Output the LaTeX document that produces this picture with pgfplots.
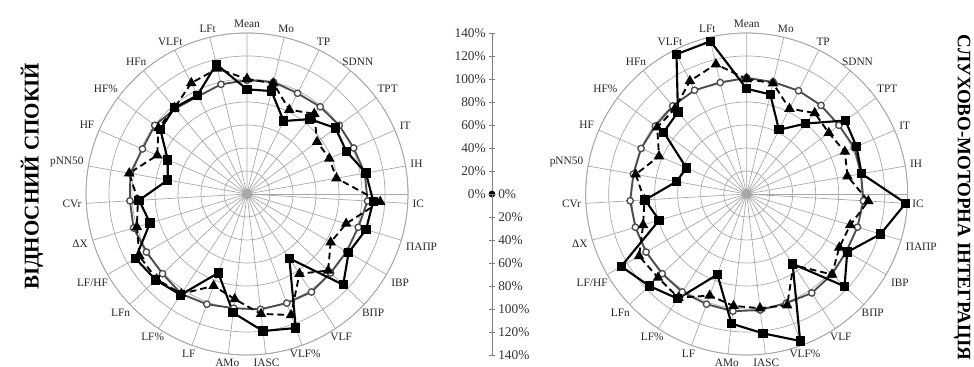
\documentclass[border=0pt]{standalone}
\usepackage{fontspec}
\setmainfont{Liberation Serif}
\usepackage{pgfplots}
\usepackage{pgfplotstable}
\usepgfplotslibrary{polar}
\pgfplotsset{compat=1.18}

\pgfplotstableread{
c t s
99 100 91
100 99 92
98 82 71
99 91 85
100 76 96
101 78 94
104 79 105
105 116 110
101 90 108
100 84 102
100 97 115
102 83 67
101 112 124
101 105 120
100 92 104
102 85 73
104 104 105
101 108 109
101 108 112
103 100 88
102 95 94
103 104 70
99 85 75
100 96 94
97 98 98
95 108 96
98 112 116
99 100 91
}\leftdata

\pgfplotstableread{
c t s
101 100 91.5
100 99 89
100.5 83 62.5
100.6 92 80
100 89 107
102 93 104
101 89 101.5
101.7 106 138.5
100.6 94 121.5
100 93 101
102 102 117
103 74 72.7
101 103 136
101.6 100 122
102.6 98 113.5
102 94 74.5
102 108 109
101 106 116.5
101 108 126
101 94 79.5
101.5 89 88.5
100 98 62
100 83 57
99 97 90
100 97 93
101 110 136
99.6 116 136.5
101 100 91.5
}\rightdata

\pgfplotsset{
  myradar/.style={
    scale only axis, width=241.5pt, height=241.5pt,
    anchor=center, clip=false,
    ymin=0, ymax=140, ytick={20,40,...,140}, yticklabels={},
    xtick={90,76.6667,63.3333,50,36.6667,23.3333,10,356.6667,343.3333,330,316.6667,303.3333,290,276.6667,263.3333,250,236.6667,223.3333,210,196.6667,183.3333,170,156.6667,143.3333,130,116.6667,103.3333},
    xticklabels={Mean,Mo,TP,SDNN,TPT,IT,IH,IC,ПАПР,IBP,ВПР,VLF,{VLF\%},IASC,AMo,LF,{LF\%},LFn,{LF/HF},ΔX,CVr,pNN50,HF,{HF\%},HFn,VLFt,LFt},
    xticklabel style={anchor=\tick-180, inner sep=3.5pt, font=\fontsize{8.5}{9}\selectfont, text=black!85},
    major tick length=0pt,
    grid=major,
    major grid style={black!35, line width=0.5pt},
    axis line style={black!35, line width=0.6pt},
  },
  sc/.style={color=black!70, line width=1.4pt, mark=*, mark size=2.4pt,
    mark options={solid, fill=white, draw=black!70, line width=1pt}},
  st/.style={color=black, line width=1.4pt, dash pattern=on 5pt off 3pt, mark=triangle*, mark size=3.2pt,
    mark options={solid, fill=black}},
  ss/.style={color=black, line width=1.6pt, mark=square*, mark size=2.7pt,
    mark options={solid, fill=black}},
}

\begin{document}
\begin{tikzpicture}
% left radar
\begin{polaraxis}[myradar, at={(185.25pt,129.75pt)}]
\addplot[sc] table[x expr={mod(450-\coordindex*360/27,360)}, y=c] {\leftdata};
\addplot[st] table[x expr={mod(450-\coordindex*360/27,360)}, y=t] {\leftdata};
\addplot[ss] table[x expr={mod(450-\coordindex*360/27,360)}, y=s] {\leftdata};
\end{polaraxis}
% right radar
\begin{polaraxis}[myradar, at={(560pt,129.75pt)}]
\addplot[sc] table[x expr={mod(450-\coordindex*360/27,360)}, y=c] {\rightdata};
\addplot[st] table[x expr={mod(450-\coordindex*360/27,360)}, y=t] {\rightdata};
\addplot[ss] table[x expr={mod(450-\coordindex*360/27,360)}, y=s] {\rightdata};
\end{polaraxis}
% central scale, upper half
\begin{axis}[scale only axis, width=0.1pt, height=120.75pt,
  at={(369pt,129.75pt)}, anchor=south west, clip=false,
  xmin=0, xmax=1, ymin=0, ymax=140, hide x axis,
  axis y line*=left, ytick={0,20,...,140},
  yticklabels={0\%,20\%,40\%,60\%,80\%,100\%,120\%,140\%},
  yticklabel style={font=\fontsize{10}{10}\selectfont, text=black!80, inner sep=2pt},
  tick align=center, major tick length=5pt,
  axis line style={black!50, line width=0.6pt}, tick style={black!50, line width=0.6pt}]
\addplot[only marks, mark=*, mark size=2.3pt, black] coordinates {(0,0)};
\end{axis}
% central scale, lower half
\begin{axis}[scale only axis, width=0.1pt, height=120.75pt,
  at={(368.9pt,129.75pt)}, anchor=north west, clip=false,
  xmin=0, xmax=1, ymin=0, ymax=140, y dir=reverse, hide x axis,
  axis y line*=right, yticklabel pos=right, ytick={0,20,...,140},
  yticklabels={0\%,20\%,40\%,60\%,80\%,100\%,120\%,140\%},
  yticklabel style={font=\fontsize{10}{10}\selectfont, text=black!80, inner sep=2pt},
  tick align=center, major tick length=5pt,
  axis line style={black!50, line width=0.6pt}, tick style={black!50, line width=0.6pt}]
\addplot[draw=none] coordinates {(0,0)};
\end{axis}
\node[rotate=90, inner sep=0pt] at (24pt,143pt) {\resizebox{170pt}{!}{\bfseries\fontsize{15}{15}\selectfont ВІДНОСНИЙ СПОКІЙ}};
\node[rotate=-90, inner sep=0pt] at (721.5pt,127pt) {\resizebox{244pt}{!}{\bfseries\fontsize{14}{14}\selectfont СЛУХОВО-МОТОРНА ІНТЕГРАЦІЯ}};
\pgfresetboundingbox
\useasboundingbox (0,0) rectangle (730.5pt,275.25pt);
\end{tikzpicture}
\end{document}
